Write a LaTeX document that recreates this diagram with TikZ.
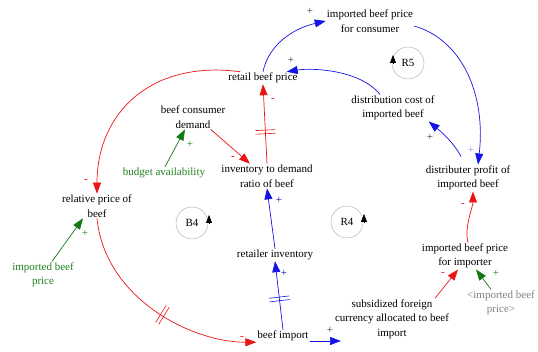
\documentclass[tikz,border=0pt]{standalone}
\usepackage{fontspec}
\setmainfont{Liberation Serif}
\usetikzlibrary{arrows.meta,decorations.markings}
\definecolor{linkred}{RGB}{235,20,20}
\definecolor{linkblue}{RGB}{20,20,230}
\definecolor{linkgreen}{RGB}{20,120,20}
\definecolor{textgreen}{RGB}{30,130,30}

\begin{document}
\begin{tikzpicture}
    [x=1pt,y=-1pt,
     var/.style={align=center,font=\fontsize{11}{14.5}\selectfont,inner sep=1pt},
     link/.style={-{Triangle[length=11pt,width=8pt]},line width=0.7pt},
     pol/.style={font=\fontsize{11}{11}\selectfont,inner sep=0pt},
     delay/.style={postaction={decorate,decoration={markings,
        mark=at position #1 with {\draw[arrows=-,line width=0.6pt] (-1.8pt,-10pt) -- (-1.8pt,10pt) (1.8pt,-10pt) -- (1.8pt,10pt);}}}},
     loopname/.style={circle,draw=gray!60,line width=0.5pt,minimum size=32pt,inner sep=0pt,font=\fontsize{11}{12}\selectfont},
     looptip/.style={-{Triangle[length=8pt,width=6pt]},black,line width=0.4pt}]
  \useasboundingbox (0,0) rectangle (538,352);

  % variables
  \node[var] (retail) at (263,78) {retail beef price};
  \node[var] (conprice) at (370,21) {imported beef price\\for consumer};
  \node[var] (distcost) at (393,108) {distribution cost of\\imported beef};
  \node[var] (profit) at (468,178) {distributer profit of\\imported beef};
  \node[var] (demand) at (193,117) {beef consumer\\demand};
  \node[var,text=textgreen] (budget) at (164,173) {budget availability};
  \node[var] (ratio) at (267,176) {inventory to demand\\ratio of beef};
  \node[var] (relprice) at (97,206) {relative price of\\beef};
  \node[var] (retinv) at (275,255) {retailer inventory};
  \node[var,text=textgreen] (impprice) at (43,275) {imported beef\\price};
  \node[var] (imppricei) at (465,256) {imported beef price\\for importer};
  \node[var,text=gray] (impshadow) at (501,303) {<imported beef\\price>};
  \node[var] (subsidy) at (392,319) {subsidized foreign\\currency allocated to beef\\import};
  \node[var] (import) at (283,336) {beef import};
  \coordinate (importout) at (341,341);

  % loops
  \node[loopname] (R5) at (408,63) {R5};
  \node[loopname] (B4) at (192,223) {B4};
  \node[loopname] (R4) at (347,222) {R4};
  \draw[looptip] ([xshift=-15pt]R5.center) -- ++(0,-8);
  \draw[looptip] ([xshift=17pt]B4.center) -- ++(0,-8);
  \draw[looptip] ([xshift=17pt]R4.center) -- ++(0,-8);

  % red links
  \draw[link,linkred] ([xshift=13pt]retail.north west) .. controls +(-90,-12) and +(0,-80) .. (relprice.north);
  \draw[link,linkred,delay=0.55] (relprice.south) .. controls +(8,80) and +(-65,0) .. (import.south west);
  \draw[link,linkred,delay=0.4] (ratio.north) -- (retail.south);
  \draw[link,linkred] (demand.-35) -- ([xshift=-17pt]ratio.north);
  \draw[link,linkred] ([xshift=43pt]subsidy.north) -- ([xshift=-7pt]imppricei.south);
  \draw[link,linkred] ([xshift=3pt]imppricei.north) .. controls +(-4,-15) and +(0,15) .. ([xshift=5pt]profit.south);

  % green links
  \draw[link,linkgreen] ([xshift=1pt]budget.north) -- ([xshift=-8pt]demand.south);
  \draw[link,linkgreen] ([xshift=9pt]impprice.north) -- ([xshift=-14pt]relprice.south);
  \draw[link,linkgreen] ([xshift=-10pt]impshadow.north) -- ([xshift=11pt]imppricei.south);

  % blue links
  \draw[link,linkblue] (retail.north) .. controls +(5,-25) and +(-35,8) .. (conprice.west);
  \draw[link,linkblue] ([yshift=-5pt]conprice.east) .. controls +(48,14) and +(8,-70) .. ([xshift=10pt]profit.north);
  \draw[link,linkblue] ([xshift=-7pt,yshift=8pt]profit.north) .. controls +(-8,-15) and +(12,10) .. ([xshift=-7pt]distcost.south east);
  \draw[link,linkblue] ([xshift=-13pt]distcost.north) .. controls +(-20,-25) and +(25,-4) .. ([xshift=-12pt]retail.north east);
  \draw[link,linkblue] (retinv.north) -- (ratio.south);
  \draw[link,linkblue,delay=0.45] (import.north) -- (retinv.south);
  \draw[link,linkblue] ([yshift=-5pt]import.east) -- (importout);

  % polarities
  \node[pol,text=red] (p1) at (86,181) {-};
  \node[pol,text=red] (p2) at (242,338) {-};
  \node[pol,text=red] (p3) at (273,100) {-};
  \node[pol,text=red] (p4) at (233,158) {-};
  \node[pol,text=red] (p5) at (443,274) {-};
  \node[pol,text=red] (p6) at (463,205) {-};
  \node[pol,text=textgreen] (p7) at (190,144) {+};
  \node[pol,text=textgreen] (p8) at (85,233) {+};
  \node[pol,text=textgreen] (p9) at (496,273) {+};
  \node[pol,text=black!80] (p10) at (310,11) {+};
  \node[pol,text=black!80] (p11) at (291,60) {+};
  \node[pol,text=black!80] (p12) at (430,137) {+};
  \node[pol,text=blue!45] (p13) at (471,150) {+};
  \node[pol,text=blue!70!black] (p14) at (279,200) {+};
  \node[pol,text=blue!70!black] (p15) at (284,273) {+};
  \node[pol,text=black!80] (p16) at (330,330) {+};
\end{tikzpicture}
\end{document}
